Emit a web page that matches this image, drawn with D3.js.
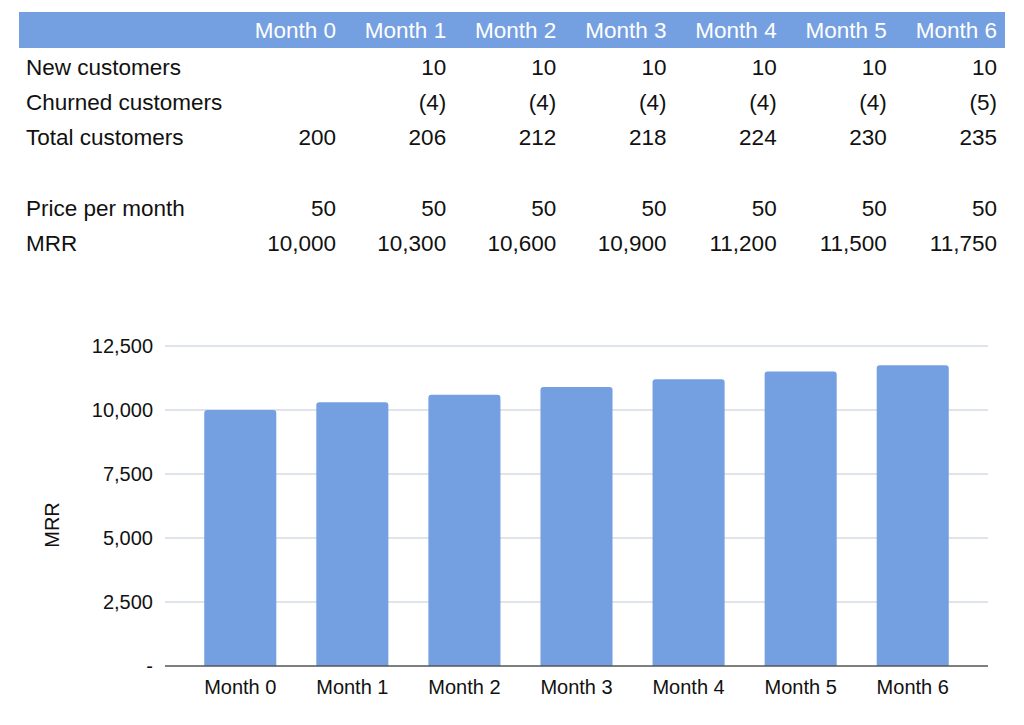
<!DOCTYPE html>
<html><head><meta charset="utf-8">
<script src="https://cdn.jsdelivr.net/npm/d3@7"></script>
<style>body{margin:0;background:#fff;} text{font-family:"Liberation Sans",Arial,sans-serif;}</style>
</head><body>
<svg id="c" width="1024" height="725"></svg>
<script>
const months = ["Month 0","Month 1","Month 2","Month 3","Month 4","Month 5","Month 6"];
const rowLabels = ["New customers","Churned customers","Total customers","","Price per month","MRR"];
const newCustomers = [null,10,10,10,10,10,10];
const churned = [null,-4,-4,-4,-4,-4,-5];
const totalCustomers = [200,206,212,218,224,230,235];
const price = [50,50,50,50,50,50,50];
const mrr = [10000,10300,10600,10900,11200,11500,11750];
const yTicks = [0,2500,5000,7500,10000,12500];

const svg = d3.select("#c");
const blue = "#74a0e2";
const fmt = d3.format(",");
const fmtCell = v => v == null ? "" : (v < 0 ? "(" + fmt(-v) + ")" : fmt(v));
const TFS = 22.5, CFS = 20;

// ---- table ----
const colRight = d3.scaleLinear().domain([0,6]).range([336,997]);
svg.append("rect").attr("x",19).attr("y",12).attr("width",986).attr("height",36).attr("fill",blue);
svg.append("g").selectAll("text").data(months).join("text")
  .attr("x",(d,i)=>colRight(i)).attr("y",38).attr("text-anchor","end")
  .attr("font-size",TFS).attr("fill","#fff").text(d=>d);
const rows = [newCustomers,churned,totalCustomers,null,price,mrr];
const rowY = d3.scaleLinear().domain([0,5]).range([75,251]);
rows.forEach((r,ri)=>{
  const yy = rowY(ri);
  if (rowLabels[ri]) svg.append("text").attr("x",26).attr("y",yy).attr("font-size",TFS).attr("fill","#111").text(rowLabels[ri]);
  if (!r) return;
  svg.append("g").selectAll("text").data(r).join("text")
    .attr("x",(d,i)=>colRight(i)).attr("y",yy).attr("text-anchor","end")
    .attr("font-size",TFS).attr("fill","#111").text(d=>fmtCell(d));
});

// ---- chart ----
const x = d3.scaleBand().domain(months).range([165,988]).paddingInner(0.357).paddingOuter(0.35);
const y = d3.scaleLinear().domain([0,12500]).range([666,346]);

const grid = svg.append("g");
grid.selectAll("line").data(yTicks.filter(d=>d>0)).join("line")
  .attr("x1",165).attr("x2",988).attr("y1",d=>y(d)).attr("y2",d=>y(d))
  .attr("stroke","#d5dae6").attr("stroke-width",1.5);

const yAxis = svg.append("g").attr("transform","translate(165,0)")
  .call(d3.axisLeft(y).tickValues(yTicks).tickSize(0).tickPadding(12).tickFormat(d=>d===0?"-":fmt(d)));
yAxis.select(".domain").remove();
yAxis.selectAll("text").attr("font-size",CFS).attr("fill","#111").style("font-family","Liberation Sans, Arial, sans-serif");

const r = 3;
svg.append("g").selectAll("path").data(mrr).join("path")
  .attr("fill",blue)
  .attr("d",(d,i)=>{
    const x0 = x(months[i]), w = x.bandwidth(), y0 = y(d), y1 = y(0);
    return `M${x0},${y1}V${y0+r}Q${x0},${y0} ${x0+r},${y0}H${x0+w-r}Q${x0+w},${y0} ${x0+w},${y0+r}V${y1}Z`;
  });

svg.append("line").attr("x1",165).attr("x2",988).attr("y1",y(0)).attr("y2",y(0))
  .attr("stroke","#555").attr("stroke-width",1.5);

const xAxis = svg.append("g").attr("transform",`translate(0,${y(0)})`)
  .call(d3.axisBottom(x).tickSize(0).tickPadding(14));
xAxis.select(".domain").remove();
xAxis.selectAll("text").attr("font-size",CFS).attr("fill","#111").style("font-family","Liberation Sans, Arial, sans-serif");

svg.append("text").attr("transform","translate(59,525) rotate(-90)").attr("text-anchor","middle")
  .attr("font-size",CFS).attr("fill","#111").text("MRR");
</script>
</body></html>
